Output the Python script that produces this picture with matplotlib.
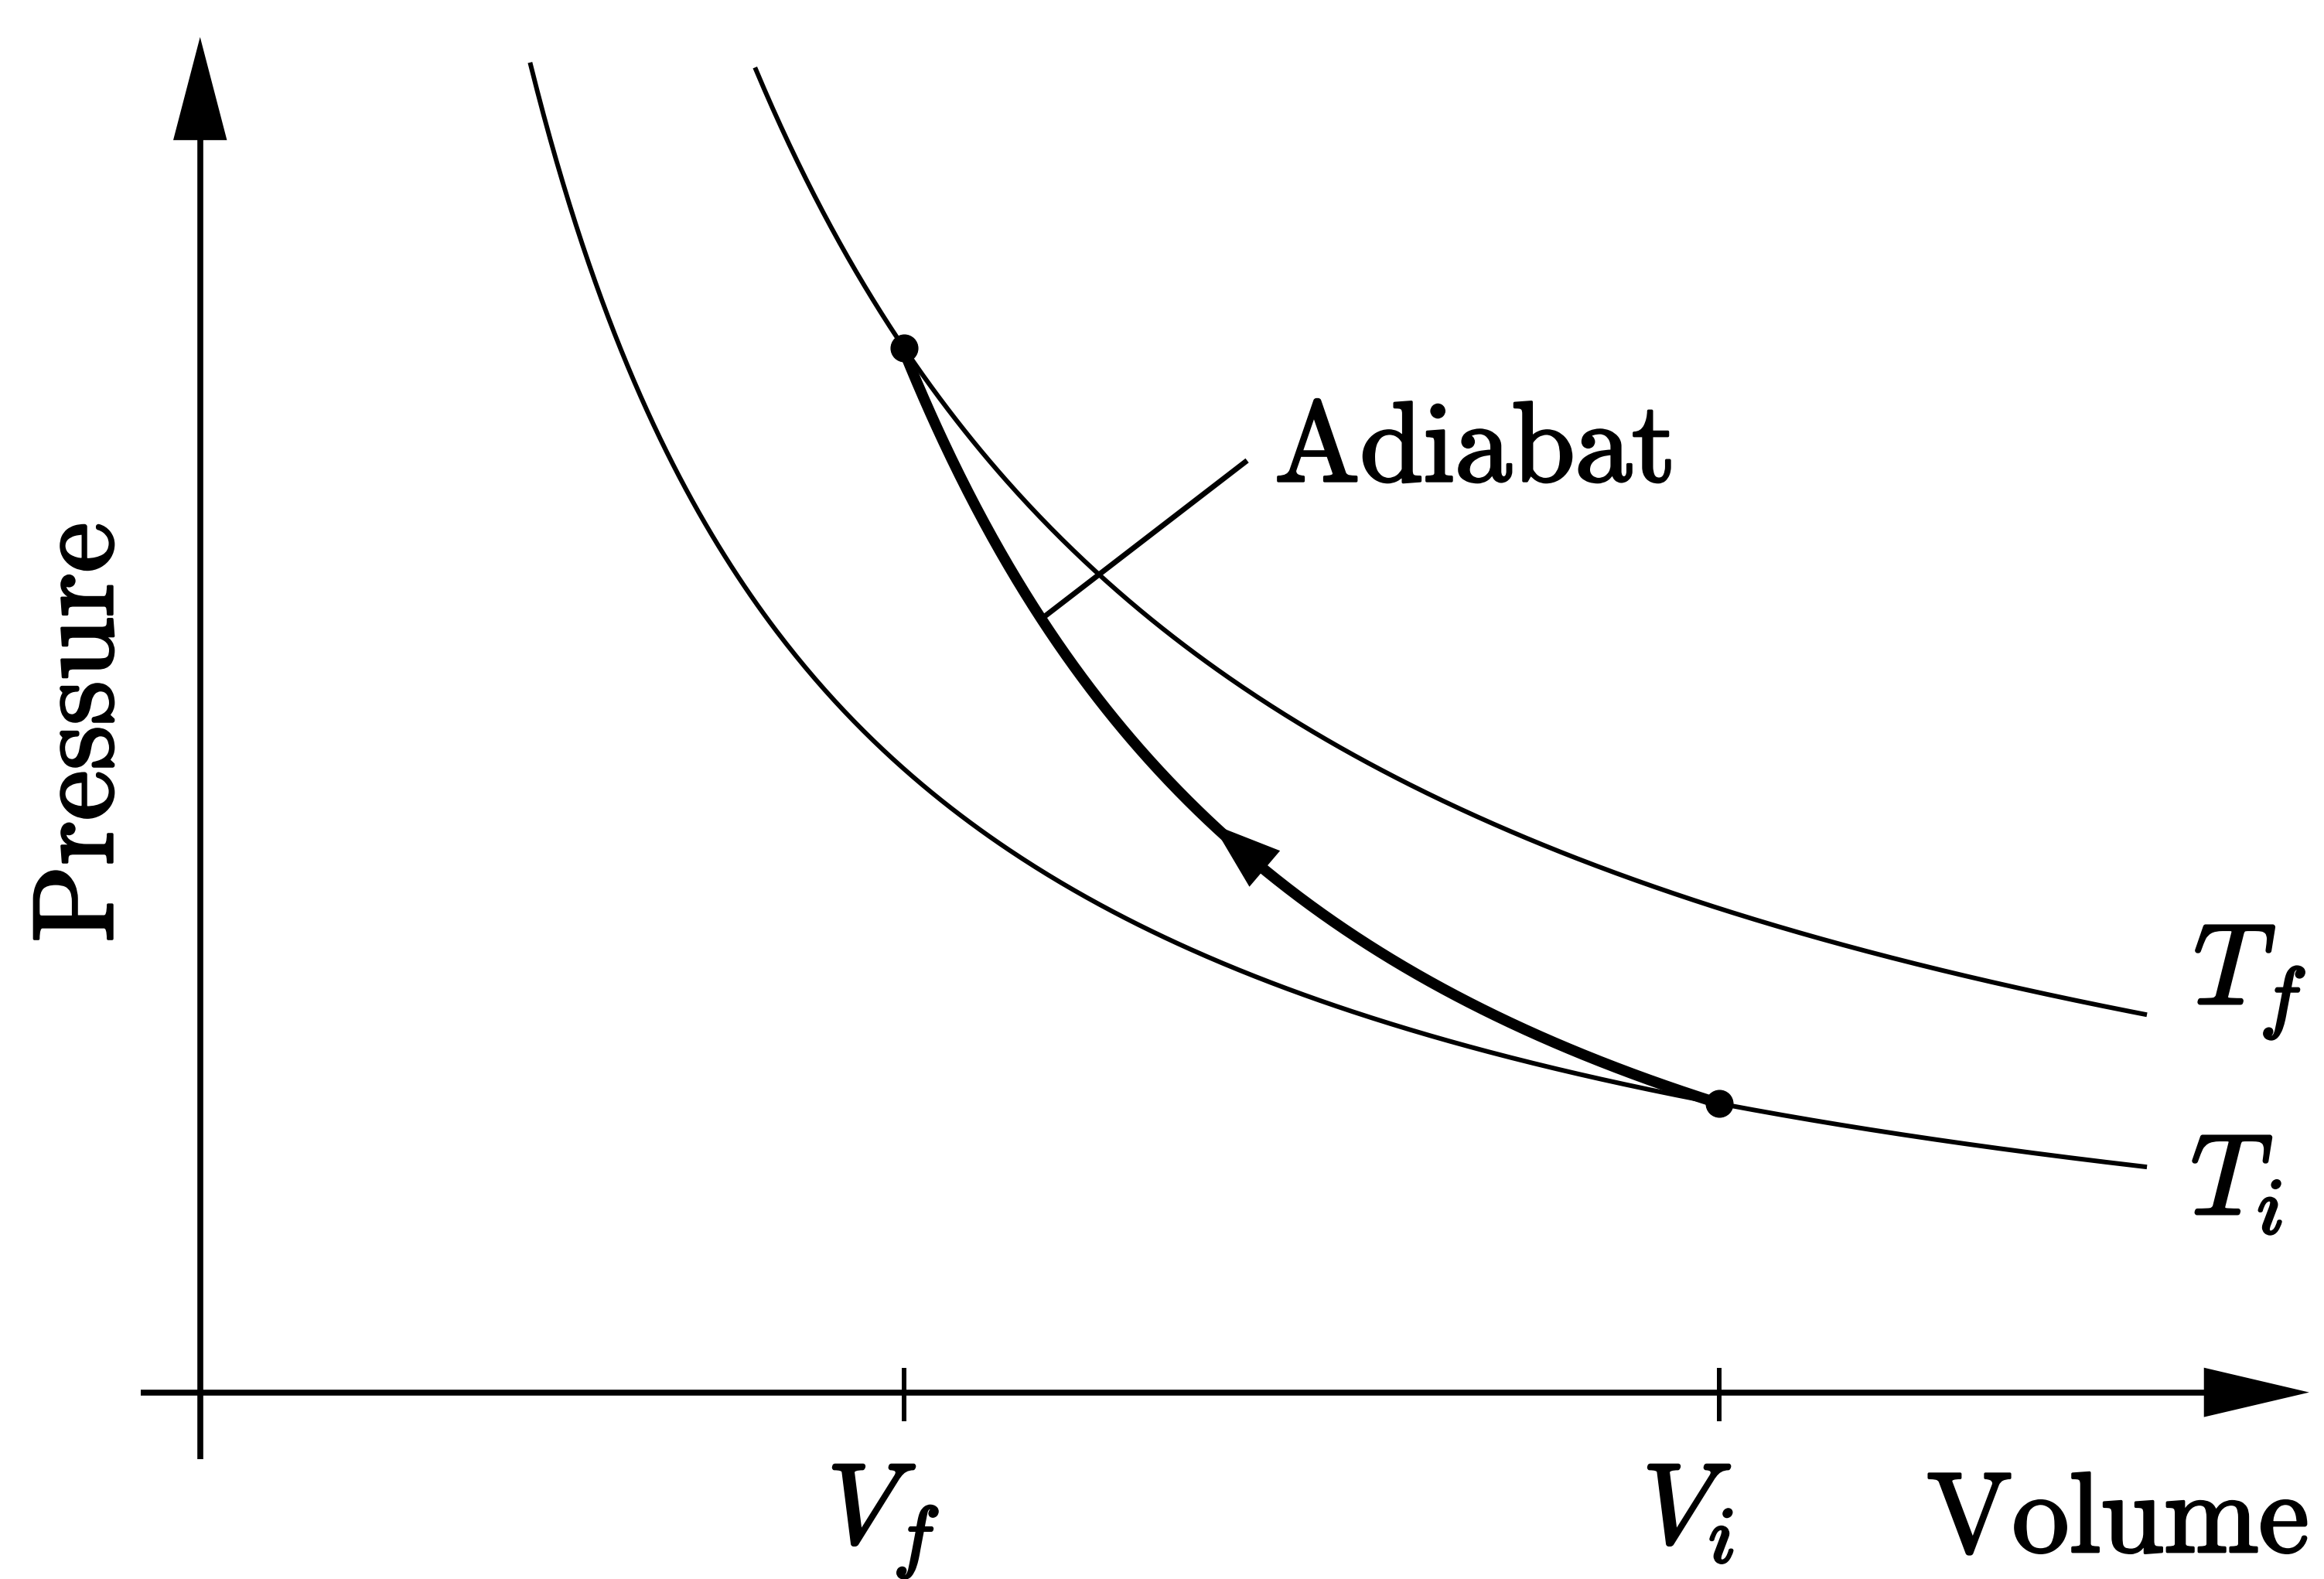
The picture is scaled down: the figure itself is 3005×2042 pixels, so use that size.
"""Diagramme P-V : compression adiabatique entre deux isothermes."""
import numpy as np
import matplotlib
matplotlib.use("Agg")
import matplotlib.pyplot as plt
import matplotlib.patheffects as pe

plt.rcParams.update({
    "mathtext.fontset": "cm",
    "font.family": "DejaVu Serif",
})

# Etats (unites arbitraires)
V_STATES = [4.75, 10.25]          # V_f, V_i
P_STATES = [7.05, 1.95]           # P_f (sur T_f), P_i (sur T_i)
STATE_LABELS = [r"$V_f$", r"$V_i$"]
ISO_LABELS = [r"$T_f$", r"$T_i$"]
ISO_V_START = [3.75, 2.23]        # debut de chaque isotherme
ISO_V_END = 13.12
GAMMA = 5 / 3
ARROW_AT = 6.83                   # position de la fleche sur l'adiabatique

LW_THIN = 4.3
LW_AXIS = 5.5
LW_ADIA = 10
FS = 106
BOLD = [pe.withStroke(linewidth=2.5, foreground="k")]

fig = plt.figure(figsize=(30.05, 20.42), dpi=100)
ax = fig.add_axes([0, 0, 1, 1])
ax.set_xlim(-1.35, 14.33)
ax.set_ylim(-1.26, 9.40)
ax.axis("off")


def label(x, y, s, **kw):
    t = ax.text(x, y, s, fontsize=FS, **kw)
    t.set_path_effects(BOLD)
    return t


# axes avec fleches
ax.plot([0, 0], [-0.45, 8.6], color="k", lw=LW_AXIS, solid_capstyle="butt")
ax.plot([-0.40, 13.7], [0, 0], color="k", lw=LW_AXIS, solid_capstyle="butt")
ax.annotate("", xy=(0, 9.15), xytext=(0, 8.3),
            arrowprops=dict(arrowstyle="-|>,head_length=4.8,head_width=1.25",
                            color="k", lw=0, mutation_scale=20,
                            shrinkA=0, shrinkB=0))
ax.annotate("", xy=(14.23, 0), xytext=(13.4, 0),
            arrowprops=dict(arrowstyle="-|>,head_length=4.9,head_width=1.15",
                            color="k", lw=0, mutation_scale=20,
                            shrinkA=0, shrinkB=0))

# graduations et etiquettes V_f, V_i
for v, lab in zip(V_STATES, STATE_LABELS):
    ax.plot([v, v], [-0.18, 0.15], color="k", lw=LW_THIN)
    label(v - 0.52, -1.02, lab, ha="left", va="baseline")

# isothermes
for vs, ps, v0 in zip(V_STATES, P_STATES, ISO_V_START):
    v = np.linspace(v0, ISO_V_END, 500)
    ax.plot(v, ps * vs / v, color="k", lw=LW_THIN)
label(13.45, 2.62, ISO_LABELS[0], ha="left", va="baseline")
label(13.43, 1.20, ISO_LABELS[1], ha="left", va="baseline")

# adiabatique
va = np.linspace(V_STATES[0], V_STATES[1], 500)
pa = P_STATES[1] * (V_STATES[1] / va) ** GAMMA
ax.plot(va, pa, color="k", lw=LW_ADIA, solid_capstyle="round")
ax.plot(V_STATES, [P_STATES[0], P_STATES[1]], "o", color="k", ms=25)

p_tip = P_STATES[1] * (V_STATES[1] / ARROW_AT) ** GAMMA
p_tail = P_STATES[1] * (V_STATES[1] / (ARROW_AT + 0.5)) ** GAMMA
ax.annotate("", xy=(ARROW_AT, p_tip), xytext=(ARROW_AT + 0.5, p_tail),
            arrowprops=dict(arrowstyle="-|>,head_length=3.2,head_width=1.1",
                            color="k", lw=0, mutation_scale=20,
                            shrinkA=0, shrinkB=0))

# legende "Adiabat"
ax.plot([5.70, 7.05], [5.24, 6.28], color="k", lw=5)
label(7.25, 6.15, r"$\mathrm{Adiabat}$", ha="left", va="baseline")

# titres des axes
label(11.65, -1.08, r"$\mathrm{Volume}$", ha="left", va="baseline")
label(-0.80, 4.45, r"$\mathrm{Pressure}$", rotation=90, ha="center", va="center")

fig.savefig("out.png", dpi=100, facecolor="white")
